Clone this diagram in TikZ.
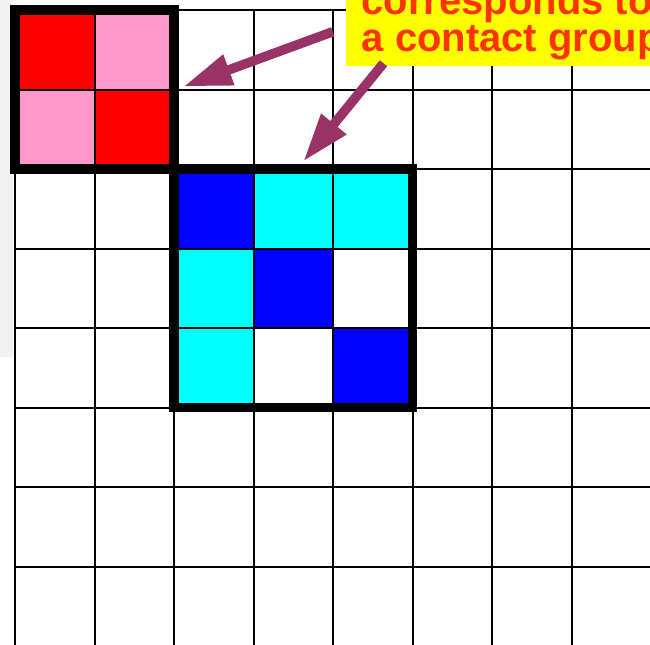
\documentclass[tikz,border=0pt]{standalone}
\usepackage{fontspec}
\setmainfont{Liberation Sans}
\usetikzlibrary{arrows.meta}
\definecolor{cellred}{HTML}{FF0000}
\definecolor{cellpink}{HTML}{FF99CC}
\definecolor{cellblue}{HTML}{0000FF}
\definecolor{cellcyan}{HTML}{00FFFF}
\definecolor{arrowplum}{HTML}{993366}
\definecolor{noteorange}{HTML}{FF3300}
\definecolor{noteyellow}{HTML}{FFFF00}

\begin{document}
\begin{tikzpicture}[
  gridline/.style={line width=0.7pt},
  groupframe/.style={line width=3.3pt, line join=miter},
  pointer/.style={arrowplum, line width=3.4pt, -{Triangle[length=17.4pt,width=10.8pt]}},
  notebox/.style={fill=noteyellow, text=noteorange, font=\fontsize{14.3pt}{13.2pt}\selectfont\bfseries,
    align=left, inner xsep=5.5pt, inner ysep=2.3pt, anchor=south west}
]
\useasboundingbox (-0.1886,0.1256) rectangle (7.982,-7.977);
\clip (-0.1886,0.1256) rectangle (7.982,-7.977);
\fill[gray!10] (-0.1886,0.1256) rectangle (-0.03,-4.36);

% red contact group
\foreach \c/\r/\col in {0/0/cellred,1/0/cellpink,0/1/cellpink,1/1/cellred}
  \fill[\col] (\c,-\r) rectangle ++(1,-1);

% blue contact group
\foreach \c/\r/\col in {2/2/cellblue,3/2/cellcyan,4/2/cellcyan,
                        2/3/cellcyan,3/3/cellblue,2/4/cellcyan,4/4/cellblue}
  \fill[\col] (\c,-\r) rectangle ++(1,-1);

\draw[gridline] (0,0) grid (8.5,-8.5);
\draw[groupframe] (0,0) rectangle (2,-2);
\draw[groupframe] (2,-2) rectangle (5,-5);

\node[notebox] (note) at (4.158,-0.716) {corresponds to\\a contact group};

\coordinate (redstart) at (3.995,-0.273);
\coordinate (redtip) at (2.115,-0.963);
\coordinate (bluestart) at (4.632,-0.67);
\coordinate (bluetip) at (3.622,-1.906);

\draw[pointer] (redstart) -- (redtip);
\draw[pointer] (bluestart) -- (bluetip);
\end{tikzpicture}
\end{document}
